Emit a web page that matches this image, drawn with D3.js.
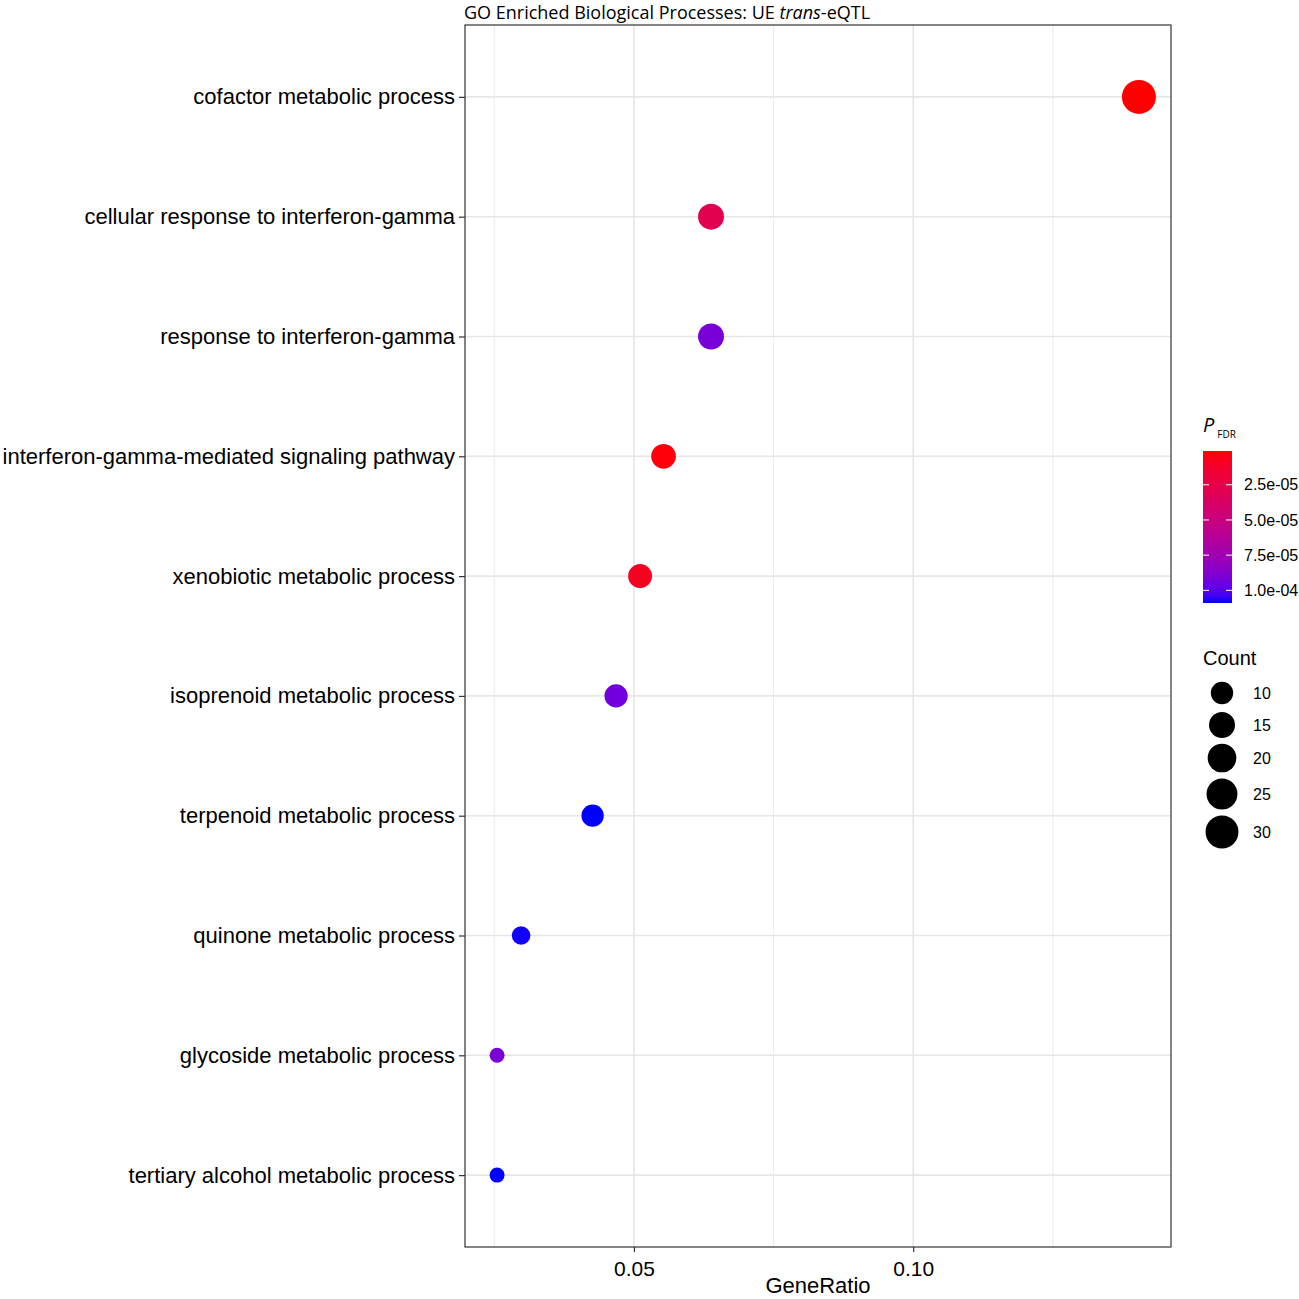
<!DOCTYPE html>
<html>
<head>
<meta charset="utf-8">
<script src="https://cdn.jsdelivr.net/npm/d3@7"></script>
<style>
  body { margin: 0; background: #fff; }
  svg { display: block; font-family: "Liberation Sans", Arial, sans-serif; }
</style>
</head>
<body>
<svg id="chart" width="1299" height="1299"></svg>
<script>
// ---------------- DATA ----------------
const terms = [
  'cofactor metabolic process',
  'cellular response to interferon-gamma',
  'response to interferon-gamma',
  'interferon-gamma-mediated signaling pathway',
  'xenobiotic metabolic process',
  'isoprenoid metabolic process',
  'terpenoid metabolic process',
  'quinone metabolic process',
  'glycoside metabolic process',
  'tertiary alcohol metabolic process'
];
const geneRatio = [0.1404, 0.0638, 0.0638, 0.0553, 0.0511, 0.0468, 0.0426, 0.0298, 0.0255, 0.0255];
const counts = [33, 15, 15, 13, 12, 11, 10, 7, 6, 6];
const pFdr = [1.0e-6, 2.9e-5, 9.1e-5, 3.0e-6, 8.0e-6, 9.4e-5, 1.09e-4, 1.085e-4, 9.0e-5, 1.09e-4];

const xTicks = [0.05, 0.10];
const xMinor = [0.025, 0.075, 0.125];
const colorTicks = [2.5e-5, 5.0e-5, 7.5e-5, 1.0e-4];
const sizeBreaks = [10, 15, 20, 25, 30];

const rows = terms.map((t, i) => ({ term: t, ratio: geneRatio[i], count: counts[i], p: pFdr[i] }));

// ---------------- LAYOUT ----------------
const svg = d3.select('#chart');
const panel = { left: 465, right: 1171, top: 25, bottom: 1247 };

// x scale with 5% expansion like ggplot
const xExt = d3.extent(geneRatio);
const pad = (xExt[1] - xExt[0]) * 0.05;
const x = d3.scaleLinear()
  .domain([xExt[0] - pad, xExt[1] + pad])
  .range([panel.left, panel.right]);

const y = d3.scalePoint()
  .domain(terms)
  .range([panel.top, panel.bottom])
  .padding(0.6);

// colour: red (low p) -> blue (high p), Lab interpolation
const pExt = d3.extent(pFdr);
const color = d3.scaleLinear()
  .domain(pExt)
  .range(['#ff0000', '#0000ff'])
  .interpolate(d3.interpolateLab);

// size: ggplot area palette (diameter ~ sqrt of rescaled count)
const cExt = d3.extent(counts);
const diam = d3.scaleLinear().domain([0, 1]).range([15, 34]);
function radius(c) {
  return diam(Math.sqrt((c - cExt[0]) / (cExt[1] - cExt[0]))) / 2;
}

// ---------------- GRID ----------------
const grid = svg.append('g');
grid.selectAll('line.minor')
  .data(xMinor)
  .join('line')
  .attr('x1', (d) => x(d)).attr('x2', (d) => x(d))
  .attr('y1', panel.top).attr('y2', panel.bottom)
  .attr('stroke', '#ebebeb').attr('stroke-width', 1);

grid.selectAll('line.major')
  .data(xTicks)
  .join('line')
  .attr('x1', (d) => x(d)).attr('x2', (d) => x(d))
  .attr('y1', panel.top).attr('y2', panel.bottom)
  .attr('stroke', '#e6e6e6').attr('stroke-width', 1.6);

grid.selectAll('line.row')
  .data(terms)
  .join('line')
  .attr('x1', panel.left).attr('x2', panel.right)
  .attr('y1', (d) => y(d)).attr('y2', (d) => y(d))
  .attr('stroke', '#e6e6e6').attr('stroke-width', 1.6);

// ---------------- POINTS ----------------
svg.append('g')
  .selectAll('circle')
  .data(rows)
  .join('circle')
  .attr('cx', (d) => x(d.ratio))
  .attr('cy', (d) => y(d.term))
  .attr('r', (d) => radius(d.count))
  .attr('fill', (d) => color(d.p));

// panel border
svg.append('rect')
  .attr('x', panel.left).attr('y', panel.top)
  .attr('width', panel.right - panel.left)
  .attr('height', panel.bottom - panel.top)
  .attr('fill', 'none').attr('stroke', '#333').attr('stroke-width', 1.2);

// ---------------- AXES ----------------
const xAxis = svg.append('g')
  .attr('transform', `translate(0,${panel.bottom})`)
  .call(d3.axisBottom(x).tickValues(xTicks).tickFormat(d3.format('.2f')).tickSize(5).tickSizeOuter(0));
xAxis.select('.domain').remove();
xAxis.selectAll('line').attr('stroke', '#333').attr('stroke-width', 1.2);
xAxis.selectAll('text').attr('font-size', 21).attr('fill', '#000').attr('dy', '1em')
  .attr('font-family', '"Liberation Sans", Arial, sans-serif');

const yAxis = svg.append('g')
  .attr('transform', `translate(${panel.left},0)`)
  .call(d3.axisLeft(y).tickSize(6).tickPadding(4).tickSizeOuter(0));
yAxis.select('.domain').remove();
yAxis.selectAll('line').attr('stroke', '#333').attr('stroke-width', 1.2);
yAxis.selectAll('text').attr('font-size', 22).attr('fill', '#000')
  .attr('font-family', '"Liberation Sans", Arial, sans-serif');

svg.append('text')
  .attr('x', (panel.left + panel.right) / 2)
  .attr('y', 1293)
  .attr('text-anchor', 'middle')
  .attr('font-size', 22)
  .text('GeneRatio');

// title
const title = svg.append('text')
  .attr('x', panel.left - 1)
  .attr('y', 19)
  .attr('font-family', '"Open Sans", sans-serif')
  .attr('font-size', 18);
title.append('tspan').text('GO Enriched Biological Processes: UE ');
title.append('tspan').attr('font-style', 'italic').text('trans');
title.append('tspan').text('-eQTL');

// ---------------- COLOUR LEGEND ----------------
const bar = { x: 1203, y: 451, w: 29, h: 152 };
const lt = svg.append('text').attr('x', bar.x).attr('y', 432)
  .attr('font-family', '"Open Sans", sans-serif');
lt.append('tspan').attr('font-style', 'italic').attr('font-size', 20).text('P');
lt.append('tspan').attr('font-size', 10).attr('dx', 3).attr('dy', 6).text('FDR');

const grad = svg.append('defs').append('linearGradient')
  .attr('id', 'pgrad').attr('x1', 0).attr('x2', 0).attr('y1', 0).attr('y2', 1);
d3.range(0, 1.0001, 0.05).forEach((t) => {
  grad.append('stop')
    .attr('offset', t)
    .attr('stop-color', color(pExt[0] + t * (pExt[1] - pExt[0])));
});
svg.append('rect')
  .attr('x', bar.x).attr('y', bar.y)
  .attr('width', bar.w).attr('height', bar.h)
  .attr('fill', 'url(#pgrad)');

const cy = d3.scaleLinear().domain(pExt).range([bar.y, bar.y + bar.h]);
const cl = svg.append('g');
colorTicks.forEach((v) => {
  cl.append('line').attr('x1', bar.x).attr('x2', bar.x + 6)
    .attr('y1', cy(v)).attr('y2', cy(v)).attr('stroke', '#fff').attr('stroke-width', 1);
  cl.append('line').attr('x1', bar.x + bar.w - 6).attr('x2', bar.x + bar.w)
    .attr('y1', cy(v)).attr('y2', cy(v)).attr('stroke', '#fff').attr('stroke-width', 1);
  cl.append('text').attr('x', 1244).attr('y', cy(v)).attr('dy', '0.35em')
    .attr('font-size', 16).text(d3.format('.1e')(v).replace(/e-(\d)$/, 'e-0$1'));
});

// ---------------- SIZE LEGEND ----------------
svg.append('text').attr('x', 1203).attr('y', 665).attr('font-size', 20).text('Count');
const sizeY = [693, 725, 758, 794, 832];
const sl = svg.append('g');
sizeBreaks.forEach((c, i) => {
  sl.append('circle').attr('cx', 1222).attr('cy', sizeY[i]).attr('r', radius(c)).attr('fill', '#000');
  sl.append('text').attr('x', 1253).attr('y', sizeY[i]).attr('dy', '0.35em')
    .attr('font-size', 16).text(c);
});
</script>
</body>
</html>
